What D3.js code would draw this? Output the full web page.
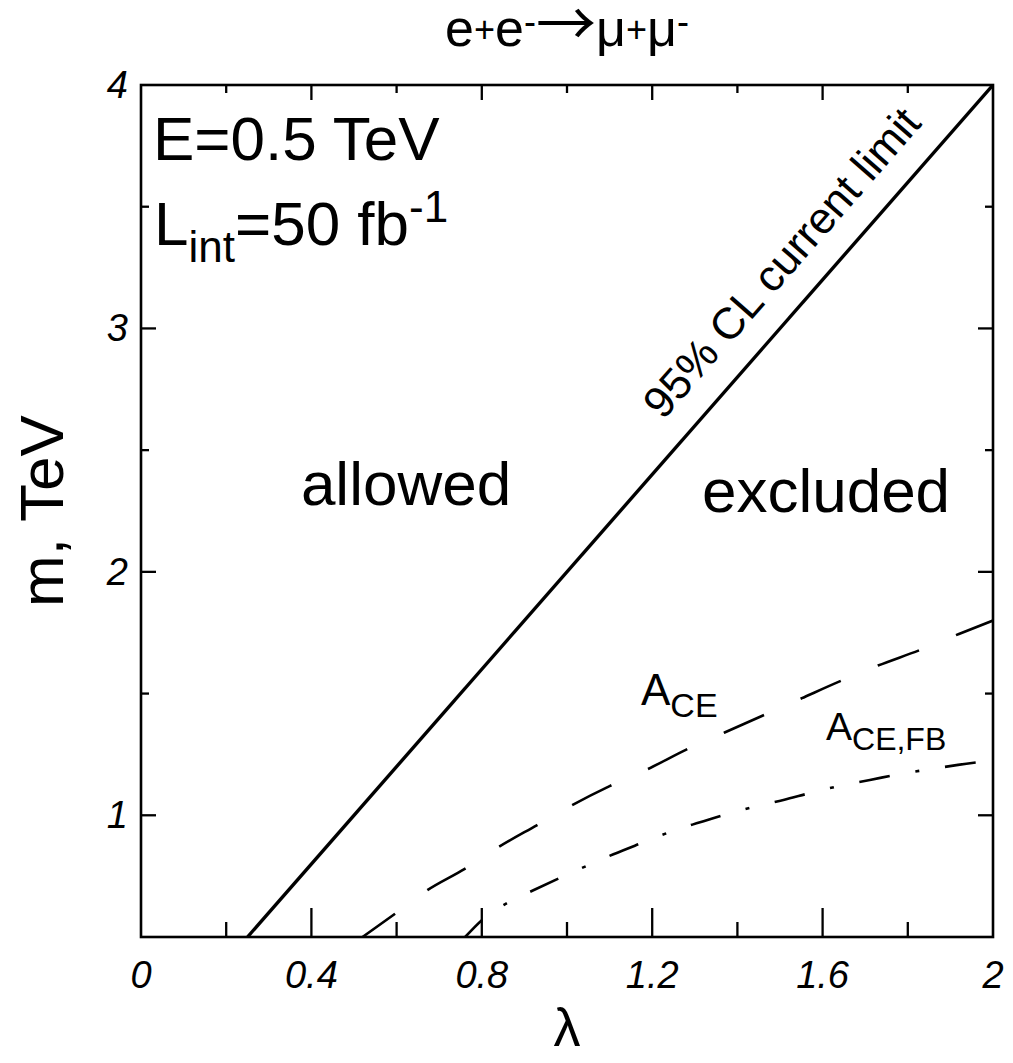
<!DOCTYPE html>
<html>
<head>
<meta charset="utf-8">
<script src="https://cdn.jsdelivr.net/npm/d3@7"></script>
<style>
  body { margin: 0; background: #fff; }
  svg { font-family: "Liberation Sans", Arial, Helvetica, sans-serif; }
</style>
</head>
<body>
<div id="chart"></div>
<script>
// ticks
const lambdaMajor = [0, 0.4, 0.8, 1.2, 1.6, 2]
const lambdaMinor = [0.2, 0.6, 1.0, 1.4, 1.8]
const lambdaLabels = ["0", "0.4", "0.8", "1.2", "1.6", "2"]
const mMajor = [1, 2, 3, 4]
const mMinor = [1.5, 2.5, 3.5]
const mLabels = ["1", "2", "3", "4"]

// 95% CL current limit (straight line)
const limitLambda = [0.25, 2.0]
const limitM = [0.5, 4.0]

// A_CE reach (dashed)
const aceLambda = [0.52, 0.60, 0.67, 0.76, 0.84, 0.93, 1.01, 1.10, 1.19, 1.28, 1.37, 1.46, 1.55, 1.64, 1.73, 1.83, 1.92, 2.0]
const aceM      = [0.50, 0.60, 0.69, 0.78, 0.87, 0.96, 1.04, 1.12, 1.19, 1.27, 1.34, 1.41, 1.48, 1.55, 1.615, 1.68, 1.745, 1.80]

// A_CE,FB reach (dash-dot)
const fbLambda = [0.761, 0.80, 0.858, 0.921, 0.982, 1.046, 1.109, 1.175, 1.238, 1.304, 1.373, 1.439, 1.508, 1.576, 1.643, 1.711, 1.782, 1.848, 1.918, 2.0]
const fbM      = [0.50, 0.569, 0.638, 0.692, 0.742, 0.792, 0.84, 0.886, 0.929, 0.967, 1.004, 1.035, 1.063, 1.094, 1.122, 1.145, 1.170, 1.188, 1.207, 1.225]

const W = 1013, H = 1063
const plot = {left: 141, right: 993, top: 85, bottom: 937}

const svg = d3.select("#chart").append("svg")
    .attr("width", W)
    .attr("height", H)

const x = d3.scaleLinear().domain([0, 2]).range([plot.left, plot.right])
const y = d3.scaleLinear().domain([0.5, 4]).range([plot.bottom, plot.top])

svg.append("clipPath").attr("id", "clip")
  .append("rect")
    .attr("x", plot.left).attr("y", plot.top)
    .attr("width", plot.right - plot.left)
    .attr("height", plot.bottom - plot.top)

// curves
const zip = (xs, ys) => xs.map((v, i) => [v, ys[i]])
const line = d3.line().x(d => x(d[0])).y(d => y(d[1])).curve(d3.curveMonotoneX)

const curves = svg.append("g").attr("clip-path", "url(#clip)")

curves.append("path")
    .attr("d", line(zip(limitLambda, limitM)))
    .attr("fill", "none").attr("stroke", "#000").attr("stroke-width", 3.4)

curves.append("path")
    .attr("d", line(zip(aceLambda, aceM)))
    .attr("fill", "none").attr("stroke", "#000").attr("stroke-width", 2.6)
    .attr("stroke-dasharray", "44,40")
    .attr("stroke-dashoffset", 4)

curves.append("path")
    .attr("d", line(zip(fbLambda, fbM)))
    .attr("fill", "none").attr("stroke", "#000").attr("stroke-width", 2.6)
    .attr("stroke-dasharray", "31,26,4,26")
    .attr("stroke-dashoffset", 7)

// frame
svg.append("rect")
    .attr("x", plot.left).attr("y", plot.top)
    .attr("width", plot.right - plot.left)
    .attr("height", plot.bottom - plot.top)
    .attr("fill", "none").attr("stroke", "#000").attr("stroke-width", 2.6)

// ticks (all inward)
const ticks = svg.append("g").attr("stroke", "#000").attr("stroke-width", 2.3)
const tickSet = (vals, len, side) => {
  ticks.selectAll(null).data(vals).enter().append("line")
    .attr("x1", d => side === "left" ? plot.left : side === "right" ? plot.right : x(d))
    .attr("x2", d => side === "left" ? plot.left + len : side === "right" ? plot.right - len : x(d))
    .attr("y1", d => side === "bottom" ? plot.bottom : side === "top" ? plot.top : y(d))
    .attr("y2", d => side === "bottom" ? plot.bottom - len : side === "top" ? plot.top + len : y(d))
}
tickSet(lambdaMajor.slice(1, -1), 29, "bottom")
tickSet(lambdaMinor, 15, "bottom")
tickSet(lambdaMajor.slice(1, -1), 15, "top")
tickSet(lambdaMinor, 8, "top")
tickSet(mMajor.slice(0, -1), 15, "left")
tickSet(mMinor, 8, "left")
tickSet(mMajor.slice(0, -1), 15, "right")
tickSet(mMinor, 8, "right")

// tick labels
svg.append("g").selectAll("text").data(lambdaMajor).enter().append("text")
    .attr("x", d => x(d)).attr("y", 988)
    .attr("text-anchor", "middle")
    .attr("font-size", 38).attr("font-style", "italic")
    .text((d, i) => lambdaLabels[i])

svg.append("g").selectAll("text").data(mMajor).enter().append("text")
    .attr("x", 128).attr("y", d => y(d) + 13)
    .attr("text-anchor", "end")
    .attr("font-size", 38).attr("font-style", "italic")
    .text((d, i) => mLabels[i])

// axis titles
svg.append("text")
    .attr("x", x(1)).attr("y", 1046)
    .attr("text-anchor", "middle").attr("font-size", 54)
    .text("λ")

svg.append("text")
    .attr("transform", `translate(63,${(plot.top + plot.bottom) / 2}) rotate(-90)`)
    .attr("text-anchor", "middle").attr("font-size", 62)
    .text("m, TeV")

// title
const title = svg.append("text")
    .attr("x", x(1)).attr("y", 46)
    .attr("text-anchor", "middle").attr("font-size", 52)
title.append("tspan").text("e")
title.append("tspan").attr("font-size", 36).attr("dy", -4).text("+")
title.append("tspan").attr("dy", 4).text("e")
title.append("tspan").attr("font-size", 36).attr("dy", -12).text("-")
title.append("tspan").attr("dy", 12).attr("font-size", 60).attr("font-family", "Noto Sans CJK SC").text("→")
title.append("tspan").text("μ")
title.append("tspan").attr("font-size", 36).attr("dy", -4).text("+")
title.append("tspan").attr("dy", 4).text("μ")
title.append("tspan").attr("font-size", 36).attr("dy", -12).text("-")

// info text
svg.append("text")
    .attr("x", 153).attr("y", 160).attr("font-size", 62)
    .text("E=0.5 TeV")

const lum = svg.append("text").attr("x", 154).attr("y", 245).attr("font-size", 62)
lum.append("tspan").text("L")
lum.append("tspan").attr("font-size", 44).attr("dy", 17).text("int")
lum.append("tspan").attr("dy", -17).text("=50 fb")
lum.append("tspan").attr("font-size", 44).attr("dy", -23).text("-1")

// region labels
svg.append("text")
    .attr("x", 406).attr("y", 505).attr("text-anchor", "middle").attr("font-size", 62)
    .text("allowed")
svg.append("text")
    .attr("x", 826).attr("y", 512).attr("text-anchor", "middle").attr("font-size", 62)
    .text("excluded")

// label along the limit line
const lpos = 1.578
const px = x(lpos), py = y(2 * lpos)
const ang = Math.atan2(y(0.5) - y(4), x(2) - x(0.25)) * 180 / Math.PI
const off = 27
const rad = ang * Math.PI / 180
svg.append("text")
    .attr("transform", `translate(${px - off * Math.sin(rad)},${py - off * Math.cos(rad)}) rotate(${-ang})`)
    .attr("text-anchor", "middle").attr("font-size", 44)
    .text("95% CL current limit")

// curve labels
const ace = svg.append("text").attr("x", 641).attr("y", 705).attr("font-size", 44)
ace.append("tspan").text("A")
ace.append("tspan").attr("font-size", 34).attr("dy", 12).text("CE")

const fb = svg.append("text").attr("x", 826).attr("y", 740).attr("font-size", 39)
fb.append("tspan").text("A")
fb.append("tspan").attr("font-size", 32).attr("dy", 10).text("CE,FB")
</script>
</body>
</html>
